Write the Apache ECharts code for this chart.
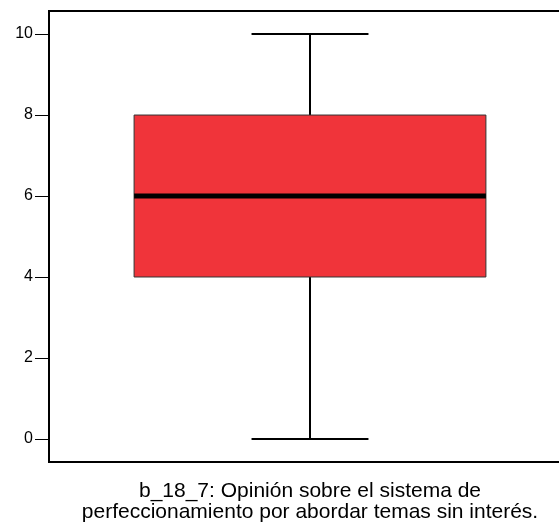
<!DOCTYPE html>
<html>
<head>
<meta charset="utf-8">
<script src="https://cdn.jsdelivr.net/npm/echarts@6/dist/echarts.min.js"></script>
<style>
html,body{margin:0;padding:0;background:#fff;overflow:hidden;}
#chart{width:559px;height:525px;}
</style>
</head>
<body>
<div id="chart"></div>
<script>
var categories = ['b_18_7: Opinión sobre el sistema de\nperfeccionamiento por abordar temas sin interés.'];
var mins = [0];
var q1s = [4];
var medians = [6];
var q3s = [8];
var maxs = [10];
var yTicks = [0, 2, 4, 6, 8, 10];

var data = categories.map(function (c, i) {
  return [i, mins[i], q1s[i], medians[i], q3s[i], maxs[i]];
});

var chart = echarts.init(document.getElementById('chart'), null, {renderer: 'canvas'});
var FONT = '"Liberation Sans", Arial, sans-serif';

chart.setOption({
  animation: false,
  backgroundColor: '#fff',
  grid: {
    left: 49, width: 522, top: 11, height: 451,
    outerBoundsMode: 'none',
    containLabel: false,
    show: true, borderColor: '#000', borderWidth: 2, backgroundColor: 'transparent'
  },
  xAxis: {
    type: 'category',
    data: categories,
    boundaryGap: true,
    axisLine: {onZero: false, lineStyle: {color: '#000', width: 2}},
    axisTick: {alignWithLabel: true, length: 14, lineStyle: {color: '#000', width: 1}},
    axisLabel: {
      color: '#000', fontFamily: FONT, fontSize: 21, lineHeight: 21, margin: 19,
      interval: 0, align: 'center'
    },
    splitLine: {show: false}
  },
  yAxis: {
    type: 'value',
    min: -0.57,
    max: 10.57,
    axisLine: {show: true, lineStyle: {color: '#000', width: 2}},
    axisTick: {show: true, length: 14, customValues: yTicks, lineStyle: {color: '#000', width: 1}},
    axisLabel: {
      color: '#000', fontFamily: FONT, fontSize: 16, margin: 16,
      customValues: yTicks
    },
    splitLine: {show: false}
  },
  series: [{
    type: 'custom',
    data: data,
    clip: false,
    encode: {x: 0, y: [1, 2, 3, 4, 5]},
    renderItem: function (params, api) {
      var cx = api.coord([api.value(0), 0])[0];
      var band = api.size([1, 0])[0];
      var yMin = api.coord([api.value(0), api.value(1)])[1];
      var yQ1 = api.coord([api.value(0), api.value(2)])[1];
      var yMed = api.coord([api.value(0), api.value(3)])[1];
      var yQ3 = api.coord([api.value(0), api.value(4)])[1];
      var yMax = api.coord([api.value(0), api.value(5)])[1];
      var bw = band * 0.674;
      var cw = band * 0.224;
      var lineStyle = {stroke: '#000', lineWidth: 2};
      return {
        type: 'group',
        children: [
          {type: 'line', shape: {x1: cx, y1: yMax, x2: cx, y2: yQ3}, style: lineStyle},
          {type: 'line', shape: {x1: cx, y1: yQ1, x2: cx, y2: yMin}, style: lineStyle},
          {type: 'line', shape: {x1: cx - cw / 2, y1: yMax, x2: cx + cw / 2, y2: yMax}, style: lineStyle},
          {type: 'line', shape: {x1: cx - cw / 2, y1: yMin, x2: cx + cw / 2, y2: yMin}, style: lineStyle},
          {type: 'rect', shape: {x: cx - bw / 2, y: yQ3, width: bw, height: yQ1 - yQ3},
            style: {fill: '#F0343A', stroke: '#333', lineWidth: 1}},
          {type: 'line', shape: {x1: cx - bw / 2, y1: yMed, x2: cx + bw / 2, y2: yMed},
            style: {stroke: '#000', lineWidth: 5}}
        ]
      };
    }
  }]
});
</script>
</body>
</html>
